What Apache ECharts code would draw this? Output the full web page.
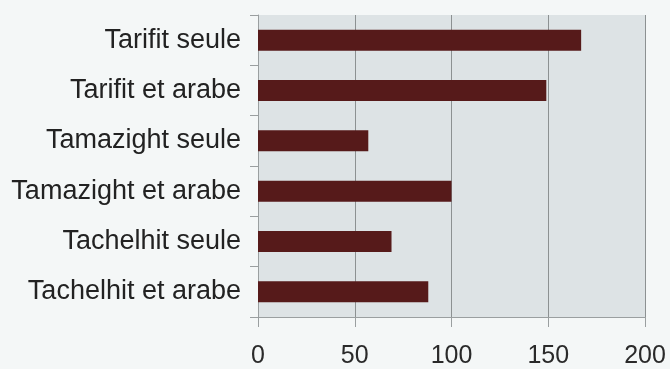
<!DOCTYPE html>
<html>
<head>
<meta charset="utf-8">
<script src="https://cdn.jsdelivr.net/npm/echarts@6/dist/echarts.min.js"></script>
<style>
  html, body { margin: 0; padding: 0; background: #f4f7f7; }
  #chart { width: 670px; height: 369px; }
</style>
</head>
<body>
<div id="chart"></div>
<script>
// categories, top to bottom
var langues = ['Tarifit seule', 'Tarifit et arabe', 'Tamazight seule', 'Tamazight et arabe', 'Tachelhit seule', 'Tachelhit et arabe'];
// values
var effectifs = [167, 149, 57, 100, 69, 88];
var xTicks = [0, 50, 100, 150, 200];

var myChart = echarts.init(document.getElementById('chart'));

var option = {
    backgroundColor: '#f4f7f7',
    animation: false,
    grid: {
        show: true,
        left: 258,
        right: 25,
        top: 15,
        bottom: 52,
        backgroundColor: '#dde3e5',
        borderWidth: 0
    },
    xAxis: {
        type: 'value',
        min: xTicks[0],
        max: xTicks[xTicks.length - 1],
        interval: 50,
        axisLine: { show: true, lineStyle: { color: '#9a9fa0', width: 1 } },
        axisTick: { show: true, length: 10, lineStyle: { color: '#9a9fa0' } },
        splitLine: { show: true, lineStyle: { color: '#8c9192', width: 1 } },
        axisLabel: {
            color: '#2a2a2a',
            fontFamily: 'Liberation Sans',
            fontSize: 25,
            margin: 27
        }
    },
    yAxis: {
        type: 'category',
        data: langues,
        inverse: true,
        axisLine: { show: true, lineStyle: { color: '#9a9fa0', width: 1 } },
        axisTick: { show: true, length: 8, lineStyle: { color: '#9a9fa0' } },
        axisLabel: {
            color: '#222222',
            fontFamily: 'Liberation Sans',
            fontSize: 27,
            margin: 17
        }
    },
    series: [{
        type: 'bar',
        data: effectifs,
        barWidth: 21,
        itemStyle: { color: '#561a1a' }
    }]
};
myChart.setOption(option);
</script>
</body>
</html>
